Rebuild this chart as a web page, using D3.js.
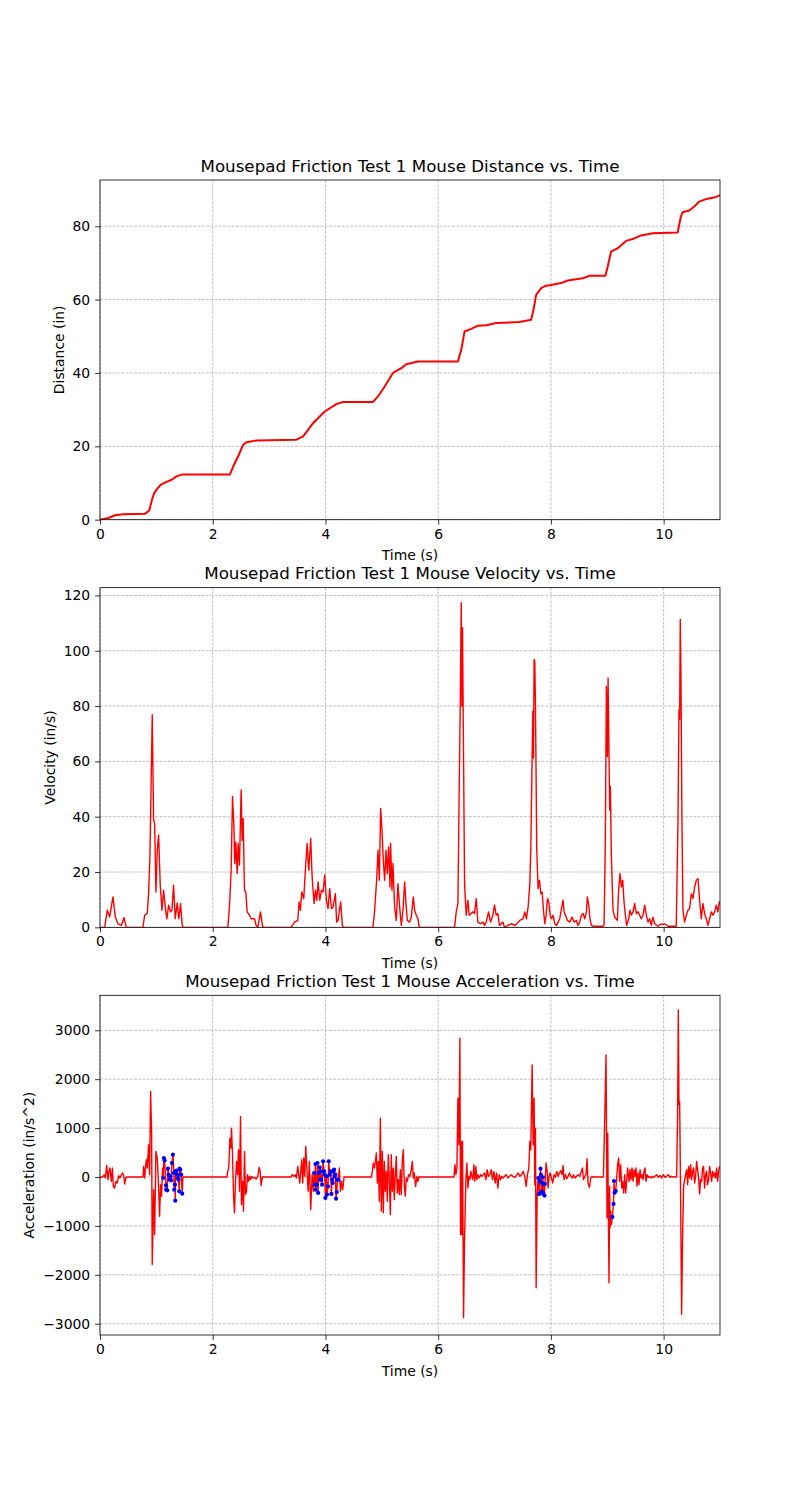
<!DOCTYPE html>
<html><head><meta charset="utf-8">
<script src="https://cdn.jsdelivr.net/npm/d3@7"></script>
<style>body{margin:0;background:#fff} svg{display:block} text{font-family:"DejaVu Sans",sans-serif}</style>
</head><body><svg id="c" width="800" height="1500"></svg>
<script>
// ---------------- DATA ----------------
const xTicks = [0, 2, 4, 6, 8, 10];
const distTicks = [0, 20, 40, 60, 80];
const velTicks = [0, 20, 40, 60, 80, 100, 120];
const accTicks = [-3000, -2000, -1000, 0, 1000, 2000, 3000];
const titles = ["Mousepad Friction Test 1 Mouse Distance vs. Time",
                "Mousepad Friction Test 1 Mouse Velocity vs. Time",
                "Mousepad Friction Test 1 Mouse Acceleration vs. Time"];
const yLabels = ["Distance (in)", "Velocity (in/s)", "Acceleration (in/s^2)"];
const xLabel = "Time (s)";

const distT = [0,0.148,0.266,0.413,0.797,0.874,0.921,0.957,1.004,1.075,1.181,1.270,1.359,1.447,2.304,2.363,2.451,2.540,2.599,2.776,3.485,3.603,3.692,3.780,3.987,4.194,4.312,4.844,4.932,5.050,5.198,5.346,5.434,5.641,6.350,6.409,6.468,6.586,6.704,6.852,7.029,7.442,7.649,7.691,7.738,7.827,7.915,8.004,8.181,8.299,8.565,8.683,8.966,9.008,9.067,9.185,9.333,9.451,9.598,9.805,10.248,10.307,10.337,10.455,10.544,10.632,10.750,10.898,11.0];
const distV = [0,0.45,1.2,1.5,1.6,2.5,5.4,7.1,8.2,9.5,10.3,10.9,11.8,12.3,12.3,14.5,17.3,20.4,21.1,21.6,21.8,22.7,24.5,26.3,29.5,31.5,32.1,32.1,33.6,36.3,40.0,41.3,42.4,43.1,43.1,46.3,51.3,52.0,52.9,53.0,53.6,53.9,54.5,57.2,61.3,63.1,63.8,64.0,64.5,65.2,65.8,66.5,66.5,69.0,73.1,74.0,76.0,76.5,77.5,78.1,78.3,82.7,83.8,84.3,85.4,86.7,87.4,87.8,88.5];

const velT = [0,0.083,0.13,0.171,0.230,0.272,0.319,0.378,0.425,0.467,0.762,0.792,0.839,0.862,0.886,0.927,0.951,0.969,0.992,1.016,1.040,1.069,1.099,1.128,1.164,1.187,1.217,1.252,1.276,1.305,1.335,1.370,1.400,1.429,1.459,1.477,
2.268,2.298,2.327,2.351,2.374,2.392,2.410,2.434,2.451,2.475,2.504,2.522,2.540,2.563,2.587,2.611,2.652,2.682,2.741,2.770,2.800,2.847,2.888,
3.390,3.450,3.509,3.532,3.556,3.580,3.615,3.639,3.674,3.704,3.739,3.763,3.798,3.822,3.846,3.869,3.899,3.928,3.958,3.987,4.017,4.046,4.076,4.105,4.135,4.176,4.199,4.223,4.270,4.300,4.318,
4.843,4.873,4.908,4.932,4.956,4.979,5.003,5.026,5.050,5.074,5.097,5.121,5.145,5.156,5.180,5.198,5.227,5.257,5.286,5.316,5.346,5.375,5.405,5.429,5.452,5.494,5.523,5.559,5.582,5.612,5.641,5.665,
6.291,6.320,6.350,6.373,6.391,6.409,6.420,6.432,6.450,6.468,6.497,6.527,6.550,6.586,6.615,6.645,6.675,6.704,6.751,6.793,6.822,6.852,6.893,6.929,6.970,7.000,7.030,7.059,7.088,7.118,7.148,7.177,7.236,7.295,
7.360,7.448,7.507,7.537,7.566,7.596,7.626,7.643,7.667,7.679,7.690,7.702,7.714,7.726,7.749,7.773,7.797,7.821,7.844,7.868,7.892,7.915,7.939,7.962,7.986,8.010,8.039,8.069,8.098,8.128,8.157,8.187,8.216,8.234,8.258,8.293,8.334,8.376,8.411,8.452,8.482,8.511,8.541,8.571,8.600,8.630,8.647,8.671,8.694,8.718,8.748,8.925,8.943,
8.966,8.984,9.002,9.014,9.031,9.043,9.055,9.073,9.102,9.132,9.179,9.203,9.226,9.250,9.274,9.297,9.321,9.344,9.380,9.403,9.427,9.457,9.486,9.516,9.545,9.575,9.604,9.634,9.664,9.693,9.723,9.752,9.782,9.811,9.841,9.900,9.959,9.989,10.018,10.077,10.224,
10.254,10.272,10.284,10.295,10.307,10.325,10.343,10.372,10.402,10.432,10.461,10.491,10.520,10.550,10.579,10.609,10.638,10.668,10.697,10.727,10.756,10.786,10.816,10.845,10.875,10.904,10.934,10.963,10.987,11.0];
const velV = [0,0,6.2,3.7,11.0,3.7,1.3,0.7,3.5,0,0,4.4,5.0,12.2,26.1,76.9,38.8,37.6,12.8,27.9,33.4,15.2,6.2,13.4,6.2,3.1,8.0,5.6,6.2,15.2,3.1,8.8,3.1,8.6,0.7,0,
0,8.0,20.7,47.3,37.6,23.1,30.9,19.5,30.3,22.5,49.7,31.5,39.4,13.4,12.8,5.6,4.4,3.1,3.1,0.7,0,5.6,0,
0,1.9,2.5,9.2,6.2,12.8,10.4,18.9,30.3,20.7,32.1,18.3,8.6,13.4,9.8,16.4,9.8,13.4,12.8,18.9,9.8,6.8,14.0,6.8,7.4,12.2,1.9,2.5,9.2,0.7,0,
0,6.2,17.0,27.9,17.0,43.0,35.2,24.3,17.0,27.9,19.5,29.1,14.6,30.3,13.4,23.1,7.4,2.5,15.8,7.4,0.7,6.2,16.4,8.6,2.5,1.9,3.7,11.0,6.2,4.4,3.1,0,
0,5.6,8.6,49.7,79.9,117.4,79.9,108.3,61.8,15.8,4.4,9.8,4.4,5.0,5.6,5.0,10.4,1.9,1.3,1.9,0.7,1.9,5.6,1.9,4.4,8.0,4.4,5.0,0.7,1.3,1.9,0,0.7,1.3,
0.7,2.5,3.1,5.6,3.1,7.4,15.8,27.9,61.8,78.1,61.2,96.8,96.2,79.9,27.9,14.0,17.0,12.2,12.8,6.2,1.3,4.4,10.4,9.2,4.4,3.1,4.4,1.3,0.7,1.9,3.1,6.8,9.8,5.6,4.4,2.5,1.9,3.7,1.9,2.5,0.7,1.9,4.4,5.0,3.1,5.6,11.0,8.0,3.1,0.7,0.4,0.4,0.7,
31.5,87.1,61.8,90.2,61.8,42.4,50.9,25.5,6.2,3.7,2.5,14.0,19.5,14.6,17.0,9.2,4.4,0.7,3.1,6.2,4.4,5.6,8.6,5.0,5.6,4.4,3.1,4.4,8.0,4.4,1.9,3.1,0.7,3.7,1.3,0.4,1.3,1.0,1.3,0.4,0.4,
37.6,78.7,75.1,111.3,92.0,37.6,6.2,1.9,4.4,6.2,6.8,12.2,10.4,14.6,17.0,17.6,9.8,3.1,8.6,5.0,3.1,0.7,3.1,5.6,4.4,5.6,8.0,5.6,9.2,8.8];

const accT = [0,0.053,0.071,0.095,0.118,0.142,0.159,0.177,0.201,0.219,0.236,0.260,0.284,0.307,0.331,0.354,0.378,0.402,0.425,0.437,0.461,0.484,0.762,0.774,0.792,0.821,0.839,0.862,0.880,0.898,0.916,0.927,0.951,0.969,0.992,1.016,1.040,1.057,1.075,1.093,1.110,1.471,
2.250,2.268,2.286,2.304,2.321,2.333,2.351,2.369,2.386,2.404,2.422,2.440,2.457,2.475,2.493,2.510,2.528,2.546,2.564,2.581,2.599,2.617,2.634,2.652,2.670,2.693,2.717,2.741,2.770,2.800,2.823,2.841,2.859,2.882,
3.390,3.408,3.438,3.461,3.485,3.509,3.526,3.544,3.562,3.580,3.597,3.615,3.633,3.650,3.692,3.715,3.739,3.763,3.786,4.247,4.265,4.282,4.306,4.330,
4.815,4.832,4.850,4.868,4.886,4.903,4.921,4.938,4.956,4.974,4.991,5.009,5.027,5.044,5.062,5.080,5.097,5.115,5.133,5.151,5.168,5.186,5.204,5.221,5.239,5.257,5.275,5.292,5.310,5.328,5.345,5.363,5.381,5.399,5.416,5.434,5.452,5.475,5.499,5.523,5.541,5.558,5.576,5.600,5.623,5.641,5.659,
6.279,6.297,6.314,6.332,6.350,6.368,6.385,6.397,6.409,6.421,6.432,6.450,6.468,6.491,6.509,6.527,6.545,6.562,6.580,6.598,6.615,6.633,6.651,6.669,6.686,6.704,6.728,6.751,6.775,6.799,6.822,6.846,6.870,6.893,6.917,6.941,6.964,6.988,7.012,7.035,7.059,7.083,7.106,7.130,7.154,7.177,7.207,7.236,7.266,7.295,7.325,
7.360,7.389,7.419,7.448,7.478,7.507,7.537,7.561,7.584,7.608,7.626,7.643,7.667,7.685,7.702,7.714,7.726,7.738,7.756,7.915,7.933,7.950,7.968,7.986,8.010,8.033,8.057,8.081,8.104,8.128,8.151,8.175,8.199,8.216,8.234,8.258,8.281,8.305,8.329,8.352,8.376,8.400,8.423,8.453,8.482,8.511,8.541,8.559,8.577,8.600,8.624,8.641,8.659,8.683,8.706,8.730,8.753,
8.931,8.955,8.978,8.996,9.008,9.020,9.031,9.043,9.049,9.061,9.073,9.184,9.202,9.220,9.238,9.256,9.273,9.291,9.309,9.327,9.344,9.362,9.386,9.404,9.421,9.439,9.457,9.475,9.492,9.510,9.528,9.545,9.563,9.581,9.598,9.616,9.634,9.652,9.669,9.687,9.705,9.728,9.752,9.775,9.799,9.823,9.846,9.876,9.906,9.935,9.965,9.994,10.024,10.053,10.083,10.112,10.136,10.171,10.230,
10.248,10.260,10.272,10.284,10.301,10.319,10.337,10.355,10.372,10.390,10.408,10.426,10.443,10.461,10.479,10.496,10.514,10.532,10.550,10.567,10.585,10.603,10.620,10.638,10.656,10.674,10.691,10.709,10.727,10.745,10.762,10.780,10.798,10.816,10.833,10.851,10.869,10.887,10.904,10.922,10.940,10.957,10.975,10.993];
const accV = [0,0,48,-20,238,-54,116,184,-88,184,-190,-224,-88,-122,27,-20,48,82,14,-143,-7,0,0,218,-20,354,184,660,48,1748,864,-1788,-258,-1176,524,388,-224,-802,-156,-394,184,0,
0,116,218,796,592,1000,456,-360,-734,-88,320,48,558,-292,1238,-564,-88,-700,524,-360,-292,48,-88,14,-54,14,-20,-7,-41,14,197,116,-170,0,
0,48,14,48,-20,218,48,-122,116,354,-122,388,14,626,-292,320,-666,48,-292,184,-292,-88,-258,0,
0,116,286,184,320,490,-122,320,-496,1204,-700,524,-734,320,-292,116,-496,456,-20,-768,456,-292,184,-462,14,422,-326,-54,-360,150,-360,320,558,-156,-394,-20,-88,48,14,150,320,-20,82,-190,14,-88,0,
0,252,48,184,1612,660,2836,-1176,728,-1176,728,-2876,-1244,-88,286,-224,14,-54,116,14,-54,252,-88,218,-54,48,-20,48,14,48,82,-54,150,14,48,150,-54,116,-122,82,-224,48,-54,14,-20,14,48,-20,14,48,14,
-7,34,82,14,48,116,14,-190,48,184,728,558,2292,660,1612,-156,1000,-2264,-360,286,116,-224,14,82,-20,-122,48,-7,116,14,82,129,48,238,-54,48,-34,14,82,14,-20,48,-20,14,48,14,116,184,-54,14,48,374,-122,-211,-20,14,0,
0,1204,2496,-836,898,-836,-2162,-190,-1040,-700,-972,252,388,-88,252,-224,-88,-326,48,-326,-88,184,-88,150,-54,184,-88,150,14,184,-190,82,-156,150,-20,48,-54,116,184,-88,48,-7,14,-20,14,-7,14,48,-7,34,-20,48,-7,14,48,-7,14,0,0,
1272,3414,1476,1544,-360,-2808,-1176,-190,-54,48,150,-156,218,-20,252,-54,116,184,-122,14,320,150,-7,-346,-54,-88,184,218,-224,48,116,-156,-54,218,82,-88,116,14,82,-20,184,-88,116,218];

// highlighted (blue) acceleration samples
const dotT = [1.122,1.134,1.146,1.170,1.175,1.193,1.205,1.217,1.235,1.252,1.264,1.276,1.294,1.311,1.317,1.329,1.335,1.341,1.358,1.370,1.382,1.394,1.406,1.412,1.424,1.441,1.459,
3.798,3.810,3.822,3.828,3.846,3.858,3.870,3.880,3.898,3.905,3.916,3.928,3.940,3.958,3.975,3.987,3.999,4.017,4.029,4.046,4.058,4.076,4.094,4.105,4.117,4.129,4.141,4.153,4.165,4.176,4.188,4.200,4.212,4.224,
7.774,7.792,7.804,7.816,7.822,7.834,7.845,7.857,7.863,7.869,7.887,7.893,
9.090,9.110,9.120,9.130,9.150];
const dotV = [-20,388,340,-170,-258,-272,170,48,-54,14,-68,286,456,82,-258,-156,-483,116,129,48,-20,-54,-292,170,150,48,-340,
82,-156,265,-258,-156,286,-326,82,197,-54,116,-54,-156,320,116,48,-428,14,-360,-190,320,48,116,-346,-54,-122,116,150,14,48,-442,-306,-54,-54,
-20,-346,-88,170,48,-292,-122,-7,-346,-142,-380,-142,
-815,-551,-82,-320,-286];

// ---------------- DRAW ----------------
const svg = d3.select("#c");
const L = 100, R = 720, H = 339.7;
const tops = [180, 587.65, 995.3];
const fs = 13.9;
const x = d3.scaleLinear().domain([0, 11]).range([L, R]);

const distData = distT.map((t, i) => [t, distV[i]]);
const velData = velT.map((t, i) => [t, velV[i]]);
const dotData = dotT.map((t, i) => [t, dotV[i]]);
const accData = accT.map((t, i) => [t, accV[i]]).concat(dotData).sort((a, b) => a[0] - b[0]);

const panels = [
  {data: distData, domain: [0, 92.6], ticks: distTicks, lw: 2.0},
  {data: velData, domain: [0, 122.8], ticks: velTicks, lw: 1.4},
  {data: accData, domain: [-3230, 3715], ticks: accTicks, lw: 1.4, dots: dotData}
];

panels.forEach((p, i) => {
  const top = tops[i], bot = top + H;
  const y = d3.scaleLinear().domain(p.domain).range([bot, top]);
  const g = svg.append("g");
  const cid = "clip" + i;
  svg.append("clipPath").attr("id", cid).append("rect")
    .attr("x", L).attr("y", top).attr("width", R - L).attr("height", H);

  // grid
  const grid = g.append("g").attr("stroke", "#b0b0b0").attr("stroke-width", 0.8)
    .attr("stroke-dasharray", "2.96,1.28");
  xTicks.forEach(t => grid.append("line").attr("x1", x(t)).attr("x2", x(t)).attr("y1", top).attr("y2", bot));
  p.ticks.forEach(t => grid.append("line").attr("x1", L).attr("x2", R).attr("y1", y(t)).attr("y2", y(t)));

  // line
  const line = d3.line().x(d => x(d[0])).y(d => y(d[1]));
  g.append("path").datum(p.data).attr("d", line).attr("fill", "none")
    .attr("stroke", "#ff0000").attr("stroke-width", p.lw).attr("stroke-linejoin", "round")
    .attr("clip-path", `url(#${cid})`);

  if (p.dots) {
    g.append("g").selectAll("circle").data(p.dots).join("circle")
      .attr("cx", d => x(d[0])).attr("cy", d => y(d[1])).attr("r", 2.1)
      .attr("fill", "#0000ff").attr("clip-path", `url(#${cid})`);
  }

  // frame
  g.append("rect").attr("x", L).attr("y", top).attr("width", R - L).attr("height", H)
    .attr("fill", "none").attr("stroke", "#000").attr("stroke-width", 0.8);

  // axes
  const xa = g.append("g").attr("transform", `translate(0,${bot})`)
    .call(d3.axisBottom(x).tickValues(xTicks).tickFormat(d3.format("d")).tickSize(4.9).tickPadding(4.2));
  const ya = g.append("g").attr("transform", `translate(${L},0)`)
    .call(d3.axisLeft(y).tickValues(p.ticks).tickFormat(d3.format("d")).tickSize(4.9).tickPadding(4.9));
  [xa, ya].forEach(a => {
    a.select(".domain").remove();
    a.selectAll("line").attr("stroke", "#000").attr("stroke-width", 0.8);
    a.selectAll("text").attr("font-size", fs).attr("fill", "#000").attr("font-family", "DejaVu Sans");
  });

  // title
  g.append("text").attr("x", (L + R) / 2).attr("y", top - 8.3).attr("text-anchor", "middle")
    .attr("font-size", 16.7).text(titles[i]);
  // x label
  g.append("text").attr("x", (L + R) / 2).attr("y", bot + 40.5).attr("text-anchor", "middle")
    .attr("font-size", fs).text(xLabel);
  // y label
  let minX = L;
  ya.selectAll("text").each(function () { const b = this.getBBox(); minX = Math.min(minX, L + b.x); });
  const lx = minX - 5.6 - 3.2;
  g.append("text").attr("transform", `translate(${lx},${(top + bot) / 2}) rotate(-90)`)
    .attr("text-anchor", "middle").attr("font-size", fs).text(yLabels[i]);
});
</script></body></html>
